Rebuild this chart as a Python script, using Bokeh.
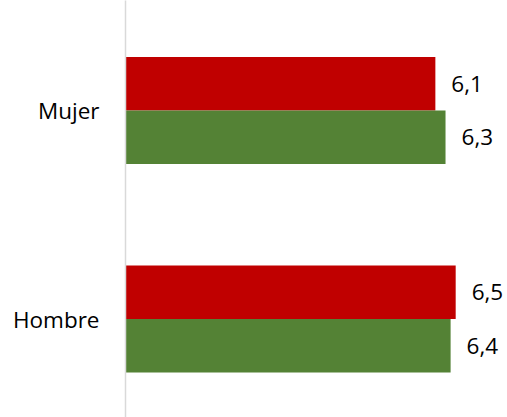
from bokeh.plotting import figure
from bokeh.models import Range1d, FixedTicker, ColumnDataSource
from bokeh.embed import file_html
from bokeh.resources import INLINE
from bokeh.core.properties import value

categories = ["Hombre", "Mujer"]
red_values = [6.5, 6.1]
green_values = [6.4, 6.3]
red_labels = ["6,5", "6,1"]
green_labels = ["6,4", "6,3"]

FONT = "Open Sans"
RED = "#C00000"
GREEN = "#548235"

pos = list(range(len(categories)))
bar_h = 0.2566
off = bar_h / 2

p = figure(width=507, height=417, output_backend="svg", toolbar_location=None,
           x_range=Range1d(0, 7.52), y_range=Range1d(-0.4724, 1.5276),
           min_border_left=125, min_border_right=0, min_border_top=0, min_border_bottom=0)
p.outline_line_color = None
p.xgrid.visible = False
p.ygrid.visible = False
p.xaxis.visible = False

red_src = ColumnDataSource(dict(y=[v + off for v in pos], v=red_values, t=red_labels))
green_src = ColumnDataSource(dict(y=[v - off for v in pos], v=green_values, t=green_labels))

p.hbar(y="y", left=0, right="v", height=bar_h, source=red_src, fill_color=RED, line_color=None)
p.hbar(y="y", left=0, right="v", height=bar_h, source=green_src, fill_color=GREEN, line_color=None)

for src in (red_src, green_src):
    p.text(x="v", y="y", text="t", source=src, x_offset=16, text_align="left",
           text_baseline="middle", text_font=value(FONT), text_font_size="22.5px",
           text_color="#000000")

ax = p.yaxis[0]
ax.ticker = FixedTicker(ticks=pos)
ax.major_label_overrides = {i: c for i, c in zip(pos, categories)}
ax.major_tick_line_color = None
ax.minor_tick_line_color = None
ax.major_tick_out = 0
ax.major_tick_in = 0
ax.major_label_standoff = 26
ax.major_label_text_font = FONT
ax.major_label_text_font_size = "22.5px"
ax.major_label_text_color = "#000000"
ax.axis_line_color = "#D9D9D9"
ax.axis_line_width = 1.5

open("out.html", "w").write(file_html(p, INLINE))
